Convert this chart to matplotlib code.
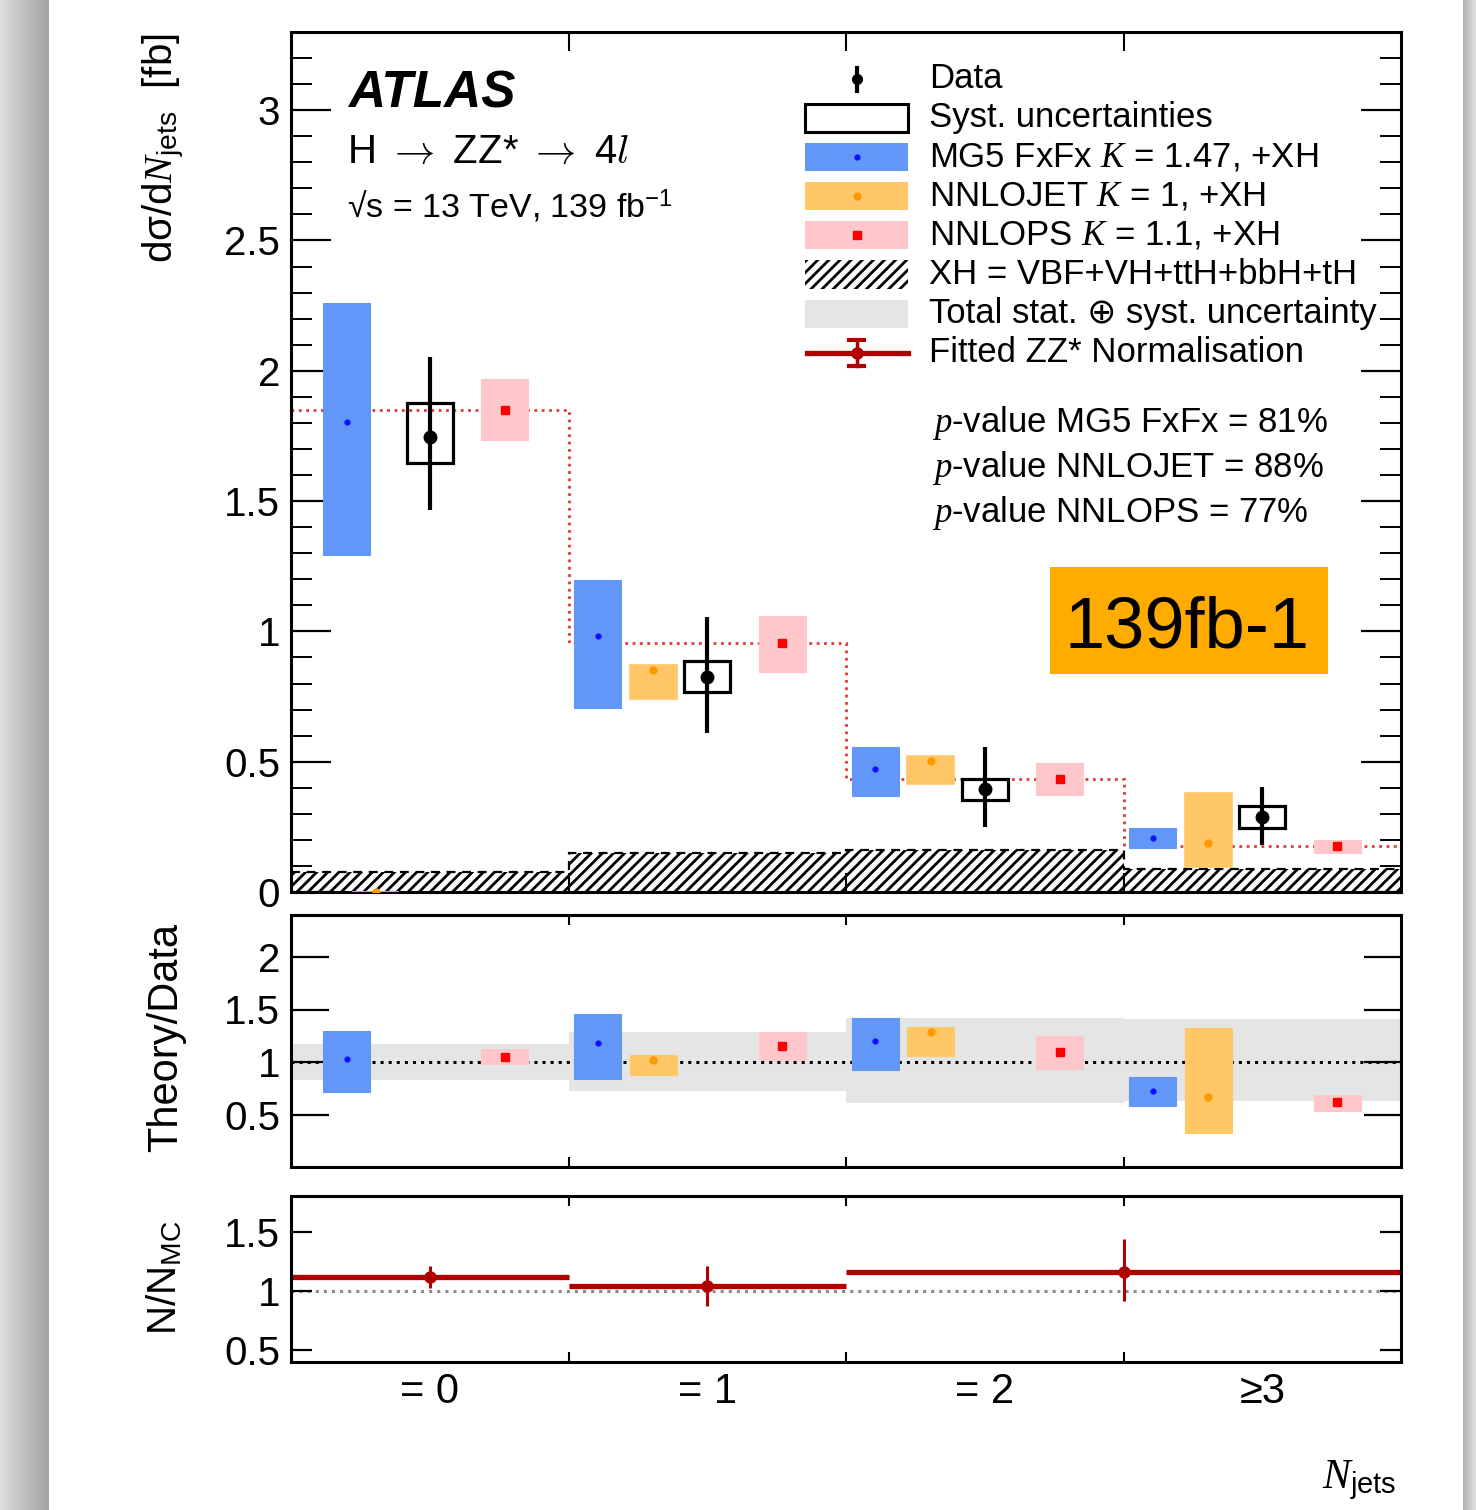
import numpy as np
import matplotlib.pyplot as plt
from matplotlib.patches import Rectangle
from matplotlib.lines import Line2D

W, H = 1476, 1510

plt.rcParams['font.family'] = ['Liberation Sans', 'DejaVu Sans']
plt.rcParams['mathtext.fontset'] = 'custom'
plt.rcParams['mathtext.rm'] = 'Liberation Sans'
plt.rcParams['mathtext.it'] = 'Liberation Serif:italic'
plt.rcParams['hatch.linewidth'] = 2.0

# ---- data ----
bins = ['= 0', '= 1', '= 2', '≥3']

mg5_val = [1.803, 0.982, 0.472, 0.207]
mg5_lo = [1.293, 0.706, 0.368, 0.170]
mg5_hi = [2.259, 1.197, 0.556, 0.246]

jet_val = [0.0, 0.852, 0.504, 0.189]
jet_lo = [0.0, 0.740, 0.414, 0.095]
jet_hi = [0.0, 0.871, 0.522, 0.378]

ps_val = [1.849, 0.955, 0.433, 0.176]
ps_lo = [1.734, 0.844, 0.372, 0.151]
ps_hi = [1.968, 1.059, 0.496, 0.199]

data_val = [1.745, 0.825, 0.394, 0.286]
data_lo = [1.465, 0.610, 0.249, 0.180]
data_hi = [2.052, 1.055, 0.557, 0.402]
syst_lo = [1.646, 0.767, 0.353, 0.247]
syst_hi = [1.876, 0.886, 0.433, 0.330]

xh = [0.075, 0.150, 0.163, 0.088]

# theory / data
r_mg5 = [1.025, 1.180, 1.199, 0.727]
r_mg5_lo = [0.717, 0.839, 0.920, 0.578]
r_mg5_hi = [1.297, 1.459, 1.418, 0.854]
r_jet = [np.nan, 1.022, 1.281, 0.664]
r_jet_lo = [np.nan, 0.879, 1.053, 0.326]
r_jet_hi = [np.nan, 1.063, 1.329, 1.323]
r_ps = [1.050, 1.148, 1.098, 0.616]
r_ps_lo = [0.978, 1.015, 0.934, 0.538]
r_ps_hi = [1.123, 1.285, 1.250, 0.689]
tot_lo = [0.829, 0.721, 0.611, 0.626]
tot_hi = [1.168, 1.281, 1.418, 1.408]

# fitted ZZ* normalisation
norm_edges = [0, 1, 2, 4]
norm_val = [1.116, 1.037, 1.158]
norm_lo = [1.023, 0.873, 0.918]
norm_hi = [1.212, 1.212, 1.438]

pvals = ['$p$-value MG5 FxFx = 81%', '$p$-value NNLOJET = 88%', '$p$-value NNLOPS = 77%']

# ---- colours / layout ----
c_blue, c_blue_m = '#6397f7', '#1010ff'
c_orng, c_orng_m = '#ffc766', '#ff9900'
c_pink, c_pink_m = '#ffc7ca', '#ff0000'
c_dred = '#b00000'

fig = plt.figure(figsize=(W / 100, H / 100), dpi=100)


def fx(x):
    return x / W


def fy(y):
    return 1 - y / H


def box(l, t, r, b):
    return [l / W, 1 - b / H, (r - l) / W, (b - t) / H]


# screenshot shadow bands
gl = fig.add_axes([0, 0, 48 / W, 1])
g = np.linspace(0.87, 0.64, 60)
gl.imshow(np.dstack([np.tile(g, (10, 1))] * 3), aspect='auto')
gl.axis('off')
gr = fig.add_axes([1463 / W, 0, 13 / W, 1])
g = np.linspace(0.70, 0.88, 20)
gr.imshow(np.dstack([np.tile(g, (10, 1))] * 3), aspect='auto')
gr.axis('off')

ax = fig.add_axes(box(291, 32, 1401, 892))
axr = fig.add_axes(box(291, 915, 1401, 1167))
axn = fig.add_axes(box(291, 1196, 1401, 1362))

idx = np.arange(4)
edges = np.arange(5)
bw = 0.17
off_mg5 = np.array([0.20, 0.105, 0.105, 0.105])
off_jet, off_dat, off_ps = 0.305, 0.50, 0.77


def hl(a, b):
    return np.array(a) - np.array(b)


# ---- main panel ----
ax.bar(idx + 0.5, xh, width=1, color='none', edgecolor='black', hatch='///', linewidth=0, zorder=1)
ax.stairs(xh, edges, baseline=None, color='black', ls=(0, (4, 3)), lw=1.6, zorder=1)
ax.stairs(ps_val, edges, baseline=None, color='#e03a3a', ls=':', lw=2, zorder=2)

ax.bar(idx + off_mg5, hl(mg5_hi, mg5_lo), bottom=mg5_lo, width=bw, color=c_blue, edgecolor=c_blue, lw=0.8, zorder=3)
ax.plot(idx + off_mg5, mg5_val, 'o', color=c_blue_m, ms=3.5, zorder=4)
ax.bar(idx + off_jet, hl(jet_hi, jet_lo), bottom=jet_lo, width=bw, color=c_orng, edgecolor=c_orng, lw=1.2, zorder=3)
ax.plot(idx + off_jet, jet_val, 'o', color=c_orng_m, ms=5, zorder=4)
ax.bar(idx + off_ps, hl(ps_hi, ps_lo), bottom=ps_lo, width=bw, color=c_pink, edgecolor=c_pink, lw=0.8, zorder=3)
ax.plot(idx + off_ps, ps_val, 's', color=c_pink_m, ms=6, zorder=4)

ax.bar(idx + off_dat, hl(syst_hi, syst_lo), bottom=syst_lo, width=0.166, fill=False, edgecolor='black', lw=2.3, zorder=5)
ax.errorbar(idx + off_dat, data_val, yerr=[hl(data_val, data_lo), hl(data_hi, data_val)], fmt='o', color='black',
            ms=9, elinewidth=3, capsize=0, zorder=6)

ax.set_xlim(0, 4)
ax.set_ylim(0, 3.3)
ax.set_yticks(np.arange(0, 3.01, 0.5), ['0', '0.5', '1', '1.5', '2', '2.5', '3'])
ax.set_yticks(np.arange(0, 3.31, 0.1), minor=True)

# ---- theory / data ----
axr.bar(idx + 0.5, hl(tot_hi, tot_lo), bottom=tot_lo, width=1, color='#e5e5e5', lw=0, zorder=1)
axr.axhline(1, color='black', ls=':', lw=2.2, zorder=2)
axr.bar(idx + off_mg5, hl(r_mg5_hi, r_mg5_lo), bottom=r_mg5_lo, width=bw, color=c_blue, edgecolor=c_blue, lw=0.8, zorder=3)
axr.plot(idx + off_mg5, r_mg5, 'o', color=c_blue_m, ms=3.5, zorder=4)
axr.bar(idx + off_jet, hl(r_jet_hi, r_jet_lo), bottom=r_jet_lo, width=bw, color=c_orng, edgecolor=c_orng, lw=0.8, zorder=3)
axr.plot(idx + off_jet, r_jet, 'o', color=c_orng_m, ms=5, zorder=4)
axr.bar(idx + off_ps, hl(r_ps_hi, r_ps_lo), bottom=r_ps_lo, width=bw, color=c_pink, edgecolor=c_pink, lw=0.8, zorder=3)
axr.plot(idx + off_ps, r_ps, 's', color=c_pink_m, ms=6, zorder=4)
axr.set_xlim(0, 4)
axr.set_ylim(0, 2.4)
axr.set_yticks([0.5, 1, 1.5, 2], ['0.5', '1', '1.5', '2'])

# ---- N / N_MC ----
ne = np.array(norm_edges)
nx = (ne[:-1] + ne[1:]) / 2
axn.axhline(1, color='#8a8a8a', ls=':', lw=2.2, zorder=1)
axn.hlines(norm_val, ne[:-1], ne[1:], color=c_dred, lw=3.8, zorder=2)
axn.errorbar(nx, norm_val, yerr=[hl(norm_val, norm_lo), hl(norm_hi, norm_val)], fmt='o', color=c_dred,
             ms=8, elinewidth=2.2, capsize=0, zorder=3)
axn.set_xlim(0, 4)
axn.set_ylim(0.4, 1.8)
axn.set_yticks([0.5, 1, 1.5], ['0.5', '1', '1.5'])

for a, xl, yl, ym in [(ax, 14, 29, 15), (axr, 7, 27, 0), (axn, 7, 15, 0)]:
    for s in a.spines.values():
        s.set_linewidth(2.2)
    a.set_xticks([1, 2, 3])
    a.tick_params(axis='x', which='major', direction='in', length=xl, width=1.5, top=True, bottom=True,
                  labelbottom=False)
    a.tick_params(axis='y', which='major', direction='in', length=yl, width=1.6, left=True, right=True,
                  labelsize=29, pad=8)
    a.tick_params(axis='y', which='minor', direction='in', length=ym, width=1.4, left=True, right=True)

axn.set_xticks(idx + 0.5, bins, minor=True)
axn.tick_params(axis='x', which='minor', length=0, labelsize=30, pad=7)

# ---- axis titles ----
fig.text(fx(164), fy(33), 'dσ/d$N_{\\mathrm{jets}}$  [fb]', rotation=90, ha='center', va='top', fontsize=29)
fig.text(fx(166), fy(1038), 'Theory/Data', rotation=90, ha='center', va='center', fontsize=30)
fig.text(fx(164), fy(1278), 'N/N$_{\\mathrm{MC}}$', rotation=90, ha='center', va='center', fontsize=29)
fig.text(fx(1396), fy(1488), '$N_{\\mathrm{jets}}$', ha='right', va='baseline', fontsize=30)

# ---- labels ----
fig.text(fx(348), fy(107), 'ATLAS', fontsize=37, fontweight='bold', fontstyle='italic', va='baseline')
fig.text(fx(347), fy(163), 'H $\\rightarrow$ ZZ* $\\rightarrow$ 4$l$', fontsize=29, va='baseline',
         math_fontfamily='cm')
fig.text(fx(347), fy(218), '√s = 13 TeV, 139 fb$^{-1}$', fontsize=24.5, va='baseline')
for i, t in enumerate(pvals):
    fig.text(fx(932), fy(432 + 45 * i), t, fontsize=25, va='baseline')

# ---- legend ----
lx0, lx1, lxm = 805, 908, 856.5
leg_labels = ['Data', 'Syst. uncertainties', 'MG5 FxFx $K$ = 1.47, +XH', 'NNLOJET $K$ = 1, +XH',
              'NNLOPS $K$ = 1.1, +XH', 'XH = VBF+VH+ttH+bbH+tH', 'Total stat. ⊕ syst. uncertainty',
              'Fitted ZZ* Normalisation']
for i, lab in enumerate(leg_labels):
    yb = 88 + 39.1 * i
    yc = yb - 9
    fig.text(fx(929), fy(yb), lab, fontsize=25, va='baseline')
    rect = dict(xy=(fx(lx0), fy(yc + 14)), width=(lx1 - lx0) / W, height=28 / H, transform=fig.transFigure)
    if i == 0:
        fig.add_artist(Line2D([fx(lxm)] * 2, [fy(yc - 11), fy(yc + 12)], color='black', lw=3, transform=fig.transFigure))
        fig.add_artist(Line2D([fx(lxm)], [fy(yc)], marker='o', ms=7, color='black', transform=fig.transFigure))
    elif i == 1:
        fig.add_artist(Rectangle(fill=False, edgecolor='black', lw=2.2, **rect))
    elif i in (2, 3, 4):
        fc, mc, mk, ms = [(c_blue, c_blue_m, 'o', 3.5), (c_orng, c_orng_m, 'o', 5), (c_pink, c_pink_m, 's', 6)][i - 2]
        fig.add_artist(Rectangle(facecolor=fc, edgecolor='none', **rect))
        fig.add_artist(Line2D([fx(lxm)], [fy(yc)], marker=mk, ms=ms, color=mc, transform=fig.transFigure))
    elif i == 5:
        fig.add_artist(Rectangle(facecolor='none', edgecolor='black', hatch='///', lw=0, **rect))
    elif i == 6:
        fig.add_artist(Rectangle(facecolor='#e5e5e5', edgecolor='none', **rect))
    else:
        T = fig.transFigure
        fig.add_artist(Line2D([fx(807), fx(lx1)], [fy(yc), fy(yc)], color=c_dred, lw=3.8, transform=T))
        fig.add_artist(Line2D([fx(lxm)] * 2, [fy(yc - 13), fy(yc + 13)], color=c_dred, lw=2.5, transform=T))
        for yy in (yc - 13, yc + 13):
            fig.add_artist(Line2D([fx(lxm - 8), fx(lxm + 8)], [fy(yy)] * 2, color=c_dred, lw=3, transform=T))
        fig.add_artist(Line2D([fx(lxm)], [fy(yc)], marker='o', ms=8, color=c_dred, transform=T))

# ---- luminosity tag ----
fig.add_artist(Rectangle((fx(1050), fy(674)), 278 / W, 107 / H, facecolor='#ffab00', edgecolor='none',
                         transform=fig.transFigure))
fig.text(fx(1187), fy(648), '139fb-1', fontsize=52, ha='center', va='baseline')

fig.savefig('out.png', dpi=100)
